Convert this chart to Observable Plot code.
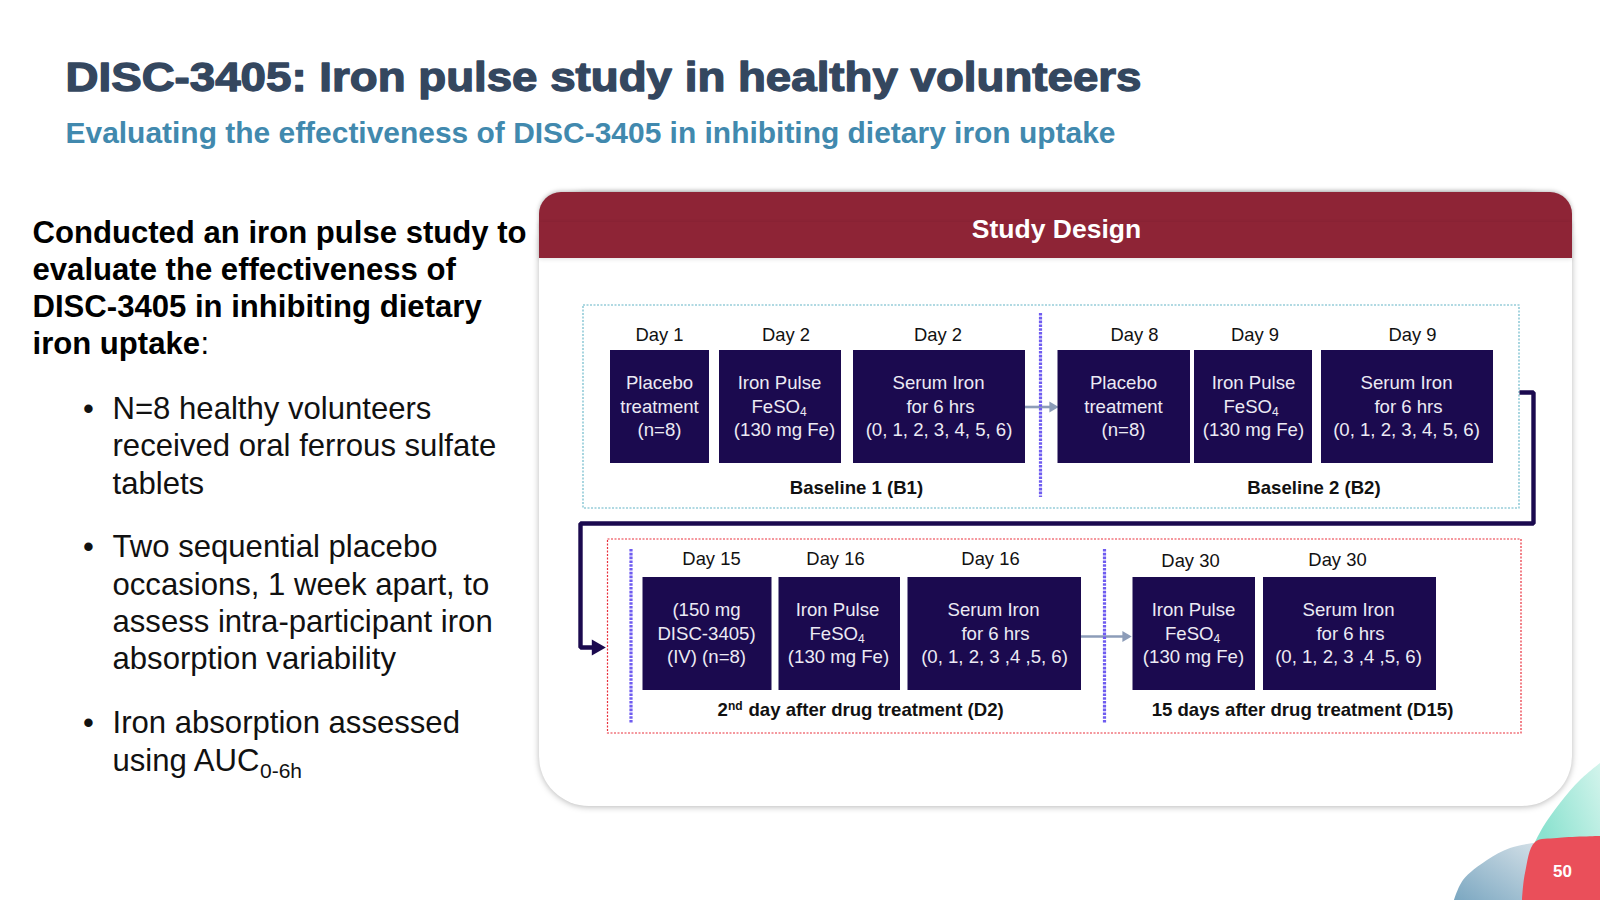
<!DOCTYPE html>
<html>
<head>
<meta charset="utf-8">
<style>html,body{margin:0;padding:0;background:#fff}svg{display:block}</style>
<script src="https://cdn.jsdelivr.net/npm/d3@7"></script>
<script src="https://cdn.jsdelivr.net/npm/@observablehq/plot@0.6"></script>
</head>
<body>
<div id="chart"></div>
<script>
const FONT = "'Liberation Sans', Arial, sans-serif";
const NAVY = "#1b0a4f";

// slide texts
const titleText = ["DISC-3405: Iron pulse study in healthy volunteers"];
const subtitleText = ["Evaluating the effectiveness of DISC-3405 in inhibiting dietary iron uptake"];
const headingLines = ["Conducted an iron pulse study to", "evaluate the effectiveness of", "DISC-3405 in inhibiting dietary"];
const headingY = [242, 279, 316];
const bulletLines = ["N=8 healthy volunteers", "received oral ferrous sulfate", "tablets", "Two sequential placebo", "occasions, 1 week apart, to", "assess intra-participant iron", "absorption variability", "Iron absorption assessed", "using AUC"];
const bulletY = [418, 455, 493, 556, 594, 631, 668, 732, 770];
const bulletMarkY = [418, 556, 732];

// study design boxes
const boxStart = [610, 719, 853, 1057.5, 1194, 1321, 642.5, 778.5, 907.5, 1132.5, 1263];
const boxEnd = [709, 841, 1025, 1190, 1312, 1493, 771.5, 900, 1081, 1255, 1436];
const boxTop = [350, 350, 350, 350, 350, 350, 577, 577, 577, 577, 577];
const boxBottom = [463, 463, 463, 463, 463, 463, 690, 690, 690, 690, 690];

const dayLabels = ["Day 1", "Day 2", "Day 2", "Day 8", "Day 9", "Day 9", "Day 15", "Day 16", "Day 16", "Day 30", "Day 30"];
const dayX = [659, 785.5, 937.5, 1134, 1254.5, 1412, 711, 835, 990, 1190, 1337];
const dayY = [340, 340, 340, 340, 340, 340, 564, 564, 564, 566.5, 565];

const boxLines = ["Placebo", "treatment", "(n=8)", "Iron Pulse", "(130 mg Fe)", "Serum Iron", "for 6 hrs", "(0, 1, 2, 3, 4, 5, 6)",
  "Placebo", "treatment", "(n=8)", "Iron Pulse", "(130 mg Fe)", "Serum Iron", "for 6 hrs", "(0, 1, 2, 3, 4, 5, 6)",
  "(150 mg", "DISC-3405)", "(IV) (n=8)", "Iron Pulse", "(130 mg Fe)", "Serum Iron", "for 6 hrs", "(0, 1, 2, 3 ,4 ,5, 6)",
  "Iron Pulse", "(130 mg Fe)", "Serum Iron", "for 6 hrs", "(0, 1, 2, 3 ,4 ,5, 6)"];
const boxLineX = [659, 659, 659, 779, 784, 938, 940, 938.5,
  1123, 1123, 1123, 1253, 1253, 1406, 1408, 1406,
  706, 706, 706, 837, 838, 993, 995, 994,
  1193, 1193, 1348, 1350, 1348];
const boxLineY = [388.5, 412, 435.5, 388.5, 435.5, 388.5, 412, 435.5,
  388.5, 412, 435.5, 388.5, 435.5, 388.5, 412, 435.5,
  615.5, 639, 662, 615.5, 662, 615.5, 639, 662,
  615.5, 662, 615.5, 639, 662];
const fesoX = [751, 1223, 809, 1164.5];
const fesoY = [412, 412, 639, 639];

const sectionLabels = ["Baseline 1 (B1)", "Baseline 2 (B2)", "15 days after drug treatment (D15)"];
const sectionX = [856, 1313.5, 1302];
const sectionY = [493, 493, 715.5];

// connectors
const loopX = [1519, 1533, 1533, 580, 580, 594];
const loopY = [392, 392, 523, 523, 647, 647];
const dividerX = [1040, 630.5, 1104];
const dividerTop = [313, 549, 549];
const dividerBottom = [497, 723, 723];
const flowStart = [1024, 1081];
const flowEnd = [1052, 1125];
const flowY = [406.5, 636];

// corner decoration outlines
const tealX = [1535, 1543, 1560, 1580, 1600];
const tealY = [842, 827, 803, 780, 763];
const blueX = [1454, 1463, 1487, 1510, 1540];
const blueY = [900, 880, 860, 848, 842];
const redX = [1522, 1525, 1535, 1557, 1600];
const redY = [900, 873, 842, 838, 836];

const rows = (t, x, y) => t.map((t, i) => ({t, x: x[i], y: y[i]}));
const pts = (x, y) => x.map((x, i) => ({x, y: y[i]}));

const css = (style, length) => (i, s, v, d, c, next) => {
  const g = next(i, s, v, d, c);
  if (style) g.style.cssText += ";" + style;
  if (length) g.querySelectorAll("text").forEach(e => { e.setAttribute("textLength", length); e.setAttribute("lengthAdjust", "spacingAndGlyphs"); });
  return g;
};
const label = (data, o) => Plot.text(data, {x: "x", y: "y", text: "t", lineAnchor: "bottom", fontFamily: FONT, ...o});
const box = (x1, x2, y1, y2, o) => Plot.rect([0], {x1: () => x1, x2: () => x2, y1: () => y1, y2: () => y2, ...o});
const boxes = boxStart.map((x1, i) => ({x1, x2: boxEnd[i], y1: boxTop[i], y2: boxBottom[i]}));
const bottomFill = (x, y, fill) => Plot.areaY(pts(x, y), {x: "x", y1: "y", y2: () => 900, fill, curve: "catmull-rom"});
const SHADOW = "filter:drop-shadow(0 1px 3px rgba(0,0,0,.28))";

const svg = Plot.plot({
  width: 1600, height: 900, margin: 0,
  x: {domain: [0, 1600], range: [0, 1600], axis: null},
  y: {domain: [0, 900], range: [0, 900], axis: null},
  style: {background: "#fff"},
  marks: [
    // corner decoration
    bottomFill(tealX, tealY, "url(#tealGrad)"),
    bottomFill(blueX, blueY, "url(#blueGrad)"),
    bottomFill(redX, redY, "#ea4f5a"),
    label(rows(["50"], [1562], [876.5]), {fill: "#fff", fontSize: 17, fontWeight: "bold"}),

    // titles
    label(rows(titleText, [65], [90]), {textAnchor: "start", fill: "#34475f", stroke: "#34475f", strokeWidth: 1.3, fontSize: 40, fontWeight: "bold", render: css(null, 1076)}),
    label(rows(subtitleText, [65], [142.5]), {textAnchor: "start", fill: "#4189ae", fontSize: 29, fontWeight: "bold", render: css(null, 1050)}),

    // left column
    label(rows(headingLines, headingLines.map(() => 32), headingY), {textAnchor: "start", fill: "#000", fontSize: 31.1, fontWeight: "bold"}),
    label(rows(["iron uptake"], [32], [353.5]), {textAnchor: "start", fill: "#000", fontSize: 31.1, fontWeight: "bold"}),
    label(rows([":"], [200], [353.5]), {textAnchor: "start", fill: "#000", fontSize: 31}),
    label(rows(bulletLines, bulletLines.map(() => 112), bulletY), {textAnchor: "start", fill: "#111", fontSize: 31.1}),
    label(rows(["0-6h"], [259.5], [777]), {textAnchor: "start", fill: "#111", fontSize: 21}),
    label(rows(bulletMarkY.map(() => "•"), bulletMarkY.map(() => 88), bulletMarkY), {fill: "#111", fontSize: 31}),

    // card
    box(539, 1572, 192, 806, {fill: "#fff", rx: 50, render: css(SHADOW)}),
    box(539, 1572, 192, 245, {fill: "#8e2436", rx: 22, render: css("filter:drop-shadow(0 -1px 2px rgba(0,0,0,.25))")}),
    box(539, 1572, 222, 258, {fill: "#8e2436", render: css("filter:drop-shadow(0 1px 2px rgba(0,0,0,.12))")}),
    label(rows(["Study Design"], [1056], [237]), {fill: "#fff", fontSize: 26.5, fontWeight: "bold"}),

    // dashed group frames
    box(583, 1519, 305, 508, {stroke: "#62b4c6", strokeWidth: 1.1, strokeDasharray: "2 1.5", fill: "none"}),
    box(607.5, 1521, 539, 733, {stroke: "#e9303c", strokeWidth: 1.2, strokeDasharray: "2 1.5", fill: "none"}),

    // thick connector
    Plot.line(pts(loopX, loopY), {x: "x", y: "y", stroke: NAVY, strokeWidth: 4.4, strokeLinejoin: "miter", strokeLinecap: "butt"}),
    Plot.dot(pts([loopX[5]], [loopY[5]]), {x: "x", y: "y", symbol: "triangle", rotate: 90, r: 6, fill: NAVY, dx: 2}),

    // flow arrows and dotted dividers
    Plot.ruleY(flowY.map((y, i) => ({y, x1: flowStart[i], x2: flowEnd[i]})), {y: "y", x1: "x1", x2: "x2", stroke: "#8c9cb8", strokeWidth: 2.6}),
    Plot.dot(flowEnd.map((x, i) => ({x, y: flowY[i]})), {x: "x", y: "y", symbol: "triangle", rotate: 90, r: 4, fill: "#8c9cb8"}),
    Plot.ruleX(dividerX.map((x, i) => ({x, y1: dividerTop[i], y2: dividerBottom[i]})), {x: "x", y1: "y1", y2: "y2", stroke: "#6f5cf0", strokeWidth: 3.2, strokeDasharray: "2.6 1.2"}),

    // boxes
    Plot.rect(boxes, {x1: "x1", x2: "x2", y1: "y1", y2: "y2", fill: NAVY}),
    label(rows(dayLabels, dayX, dayY), {fill: "#111", fontSize: 18.4}),
    label(rows(boxLines, boxLineX, boxLineY), {fill: "#eceaf4", fontSize: 18.6}),
    label(rows(fesoX.map(() => "FeSO"), fesoX, fesoY), {textAnchor: "start", fill: "#eceaf4", fontSize: 18.6}),
    label(rows(fesoX.map(() => "4"), fesoX.map(x => x + 48.5), fesoY.map(y => y + 3)), {textAnchor: "start", fill: "#eceaf4", fontSize: 12}),
    label(rows(sectionLabels, sectionX, sectionY), {fill: "#111", fontSize: 18.6, fontWeight: "bold"}),
    label(rows(["2"], [717], [715.5]), {textAnchor: "start", fill: "#111", fontSize: 18.6, fontWeight: "bold"}),
    label(rows(["nd"], [727.5], [709.5]), {textAnchor: "start", fill: "#111", fontSize: 12, fontWeight: "bold"}),
    label(rows(["day after drug treatment (D2)"], [748], [715.5]), {textAnchor: "start", fill: "#111", fontSize: 18.6, fontWeight: "bold"})
  ]
});

const defs = d3.select(svg).insert("defs", ":first-child");
const grad = (id, x1, y1, x2, y2, c1, c2) => {
  const g = defs.append("linearGradient").attr("id", id).attr("x1", x1).attr("y1", y1).attr("x2", x2).attr("y2", y2);
  g.append("stop").attr("offset", 0).attr("stop-color", c1);
  g.append("stop").attr("offset", 1).attr("stop-color", c2);
};
grad("tealGrad", 1, 0, 0.2, 0.6, "#d3f4ec", "#8be2cf");
grad("blueGrad", 0, 1, 1, 0, "#7ba7c1", "#d5e1e8");
document.getElementById("chart").append(svg);
</script>
</body>
</html>
